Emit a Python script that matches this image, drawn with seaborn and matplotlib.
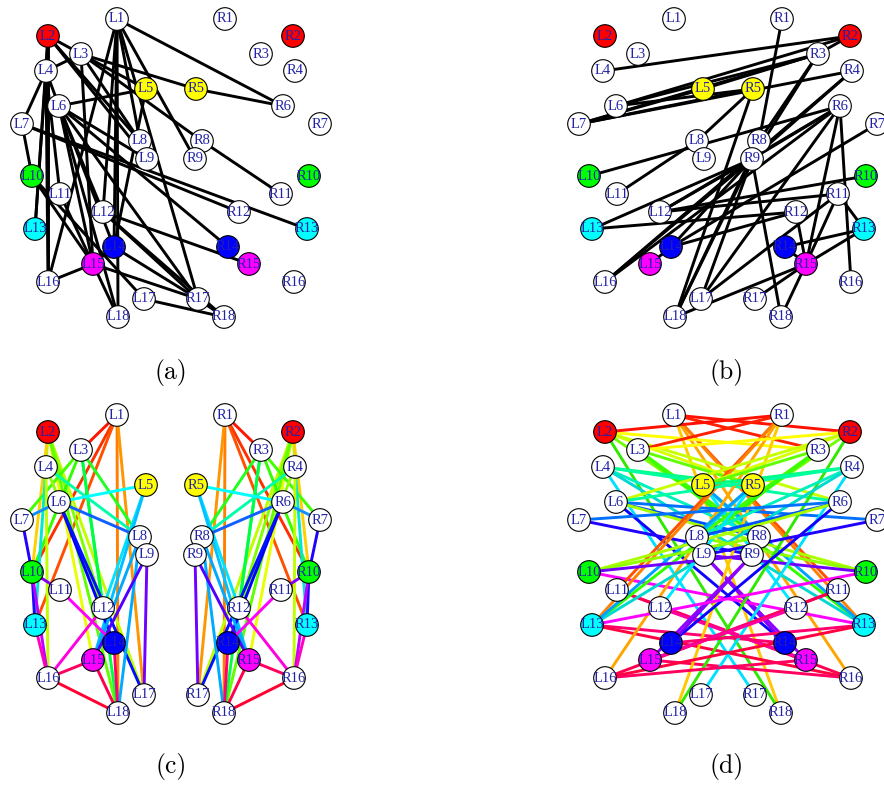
import pandas as pd
import seaborn as sns
import matplotlib
matplotlib.use("Agg")
import matplotlib.pyplot as plt

sns.set_theme(style="white")

# Node layout, shared by all four panels
left_x = [117, 48, 81, 46, 146, 59, 22, 140, 147, 32, 60, 103, 35, 114, 93, 48, 144, 118]
right_x = [225, 293, 261, 295, 196, 283, 320, 202, 195, 309, 281, 239, 307, 228, 249, 294, 198, 224]
node_y = [19, 36, 54, 71, 89, 106, 124, 141, 159, 176, 194, 212, 229, 247, 264, 282, 299, 317]
node_fill = {2: "#ff0000", 5: "#ffff00", 10: "#00ff00", 13: "#00ffff", 14: "#0000ff", 15: "#ff00ff"}

# (a) edges
edges_a = [
    "L1 R6", "L1 L16", "L1 L12", "L1 L14", "L1 L18", "L1 L8", "L1 R9", "L1 R17",
    "L2 L3", "L2 L4", "L2 L8", "L2 L9", "L2 L13", "L2 L16",
    "L3 L4", "L3 L5", "L3 R5", "L3 L8", "L3 R8", "L3 L15",
    "L4 L6", "L4 L7", "L4 L13", "L4 L16", "L4 L11",
    "L5 L6", "L5 L14", "R5 R6", "R8 R11",
    "L6 L9", "L6 L14", "L6 L15", "L6 L18", "L6 R14", "L6 R17", "L6 L12",
    "L7 L10", "L7 R12", "L7 R13",
    "L10 L15", "L10 L17", "L11 L15",
    "L12 R15", "L12 R17", "L12 R18", "L14 R17", "L14 L15",
    "L15 L16", "L15 R17", "L15 L18", "L17 R18", "R17 R18",
]

# (b) edges
edges_b = [
    "L4 R2", "L6 R2", "L6 R3", "L5 R3", "L7 R3", "L7 L5", "L7 R5", "L6 R5", "L7 R4",
    "R1 R8", "R2 R3", "R3 R8", "R3 R9", "L8 R5", "L10 R6", "L11 L8",
    "R4 L16", "R4 R9", "R5 L18", "R6 R9", "R6 L16", "R6 L12", "R6 L17",
    "R6 R15", "R6 R16", "R7 L14",
    "R9 L13", "R9 L12", "R9 L16", "R9 L14", "R9 L17", "R9 L18", "R8 L18", "R9 R18",
    "L12 R10", "L12 R11", "L13 R12", "L14 R12", "L14 L15", "R11 R15", "R11 L17", "R11 R13",
    "R12 R15", "R13 R14", "R13 R15", "R14 R15", "R15 L18", "R15 R17", "R15 R18",
]

# (c) edges, the right half repeats these with R names
names_c = [
    "1 3", "1 10", "1 13", "1 18", "1 17",
    "2 4", "2 10", "2 15", "2 17", "2 12", "2 18",
    "3 7", "3 10", "3 8", "3 12", "3 18",
    "4 8", "4 13", "4 16", "4 12",
    "5 6", "5 12", "5 15",
    "6 7", "6 8", "6 14", "6 17",
    "7 10", "8 15", "8 18", "9 15", "9 17",
    "10 11", "10 13", "10 16", "13 16",
    "11 14", "12 16", "14 18", "15 16", "15 18", "16 18",
]
colors_c = [
    "#ff1500", "#ff3000", "#ff5000", "#ff8000", "#ff9500",
    "#a0ff00", "#ffd000", "#e8ff00", "#bfff00", "#80ff00", "#60ff00",
    "#40ff00", "#30ff00", "#20ff20", "#00ff50", "#00ff40",
    "#00ffaa", "#00e8d0", "#bfff00", "#90ff00",
    "#00ffff", "#00e0ff", "#00c0ff",
    "#1090ff", "#1060ff", "#0000ff", "#0010ff",
    "#2000ff", "#00a8ff", "#00aaff", "#5000ff", "#7000ff",
    "#8000ff", "#2000ff", "#c000ff", "#ff00c0",
    "#ff00ff", "#ff00e0", "#ff0070", "#ff0060", "#ff0050", "#ff0030",
]

# (d) edges, i-j means both Li-Rj and Lj-Ri
names_d = [
    "1 2", "1 3", "1 11", "1 13", "1 16", "1 18",
    "2 3", "2 5", "2 6", "2 8", "3 13", "2 18",
    "3 5", "3 8", "4 5", "4 6", "4 8", "4 13", "4 17",
    "5 8", "5 12", "5 13",
    "6 7", "6 8", "6 10", "6 14",
    "7 9", "8 10", "9 10", "9 14", "9 15",
    "10 13", "11 15", "11 16", "12 15",
    "13 14", "13 16", "15 16",
]
colors_d = [
    "#ff1000", "#ff2000", "#ff5000", "#ff8000", "#ffa500", "#ffc800",
    "#ffff00", "#d8ff00", "#c8ff00", "#70ff00", "#30ff00", "#30e800",
    "#60ff00", "#40ff00", "#00ff80", "#00ffa0", "#00f0c0", "#00d8d0", "#00e0ff",
    "#00d0f0", "#00e8ff", "#00a0ff",
    "#0070ff", "#0050ff", "#a8ff00", "#1000ff",
    "#2000ff", "#90ff00", "#7000ff", "#8000ff", "#9000ff",
    "#ff00ff", "#ff0090", "#ff0050", "#ff00a0",
    "#ff0070", "#ff0040", "#ff0060",
]

captions = ["(a)", "(b)", "(c)", "(d)"]
caption_x = [171, 727, 171, 727]
caption_y = [372, 372, 767, 767]
panel_x = [0, 557, 0, 557]
panel_y = [0, 0, 396, 396]

W, H = 884, 786
names = [f"L{i + 1}" for i in range(18)] + [f"R{i + 1}" for i in range(18)]
nodes = pd.DataFrame({
    "name": names,
    "x": left_x + right_x,
    "y": node_y + node_y,
})
nodes["fill"] = [node_fill.get(int(n[1:]), "#ffffff") for n in nodes["name"]]
pos = nodes.set_index("name")


def draw_edges(ax, pairs, colors):
    rows = []
    for k, (a, b) in enumerate(pairs):
        rows.append({"edge": k, "x": pos.loc[a, "x"], "y": pos.loc[a, "y"]})
        rows.append({"edge": k, "x": pos.loc[b, "x"], "y": pos.loc[b, "y"]})
    df = pd.DataFrame(rows)
    sns.lineplot(data=df, x="x", y="y", hue="edge", units="edge", estimator=None, sort=False,
                 palette={k: c for k, c in enumerate(colors)}, lw=2.1, legend=False, ax=ax, zorder=1)


def draw_nodes(ax):
    sns.scatterplot(data=nodes, x="x", y="y", hue="name", palette=dict(zip(nodes["name"], nodes["fill"])),
                    s=265, edgecolor="black", linewidth=0.8, legend=False, ax=ax, zorder=3)
    for _, row in nodes.iterrows():
        ax.text(row["x"], row["y"], row["name"], ha="center", va="center", fontsize=10.5,
                family="Liberation Serif", color="#2222a8", zorder=4)


fig = plt.figure(figsize=(W / 100, H / 100), dpi=100)
for i in range(4):
    ax = fig.add_axes([panel_x[i] / W, 1 - (panel_y[i] + 340) / H, 340 / W, 340 / H])
    ax.set_xlim(0, 340)
    ax.set_ylim(340, 0)
    if i == 0:
        draw_edges(ax, [e.split() for e in edges_a], ["black"] * len(edges_a))
    elif i == 1:
        draw_edges(ax, [e.split() for e in edges_b], ["black"] * len(edges_b))
    elif i == 2:
        pairs = []
        for e in names_c:
            a, b = e.split()
            pairs.append(("L" + a, "L" + b))
        for e in names_c:
            a, b = e.split()
            pairs.append(("R" + a, "R" + b))
        draw_edges(ax, pairs, colors_c + colors_c)
    else:
        pairs = []
        for e in names_d:
            a, b = e.split()
            pairs.append(("L" + a, "R" + b))
        for e in names_d:
            a, b = e.split()
            pairs.append(("L" + b, "R" + a))
        draw_edges(ax, pairs, colors_d + colors_d)
    draw_nodes(ax)
    ax.axis("off")
    fig.text(caption_x[i] / W, 1 - caption_y[i] / H, captions[i], ha="center", va="center",
             fontsize=18.5, family="cmr10", color="black")

fig.savefig("out.png", dpi=100)
